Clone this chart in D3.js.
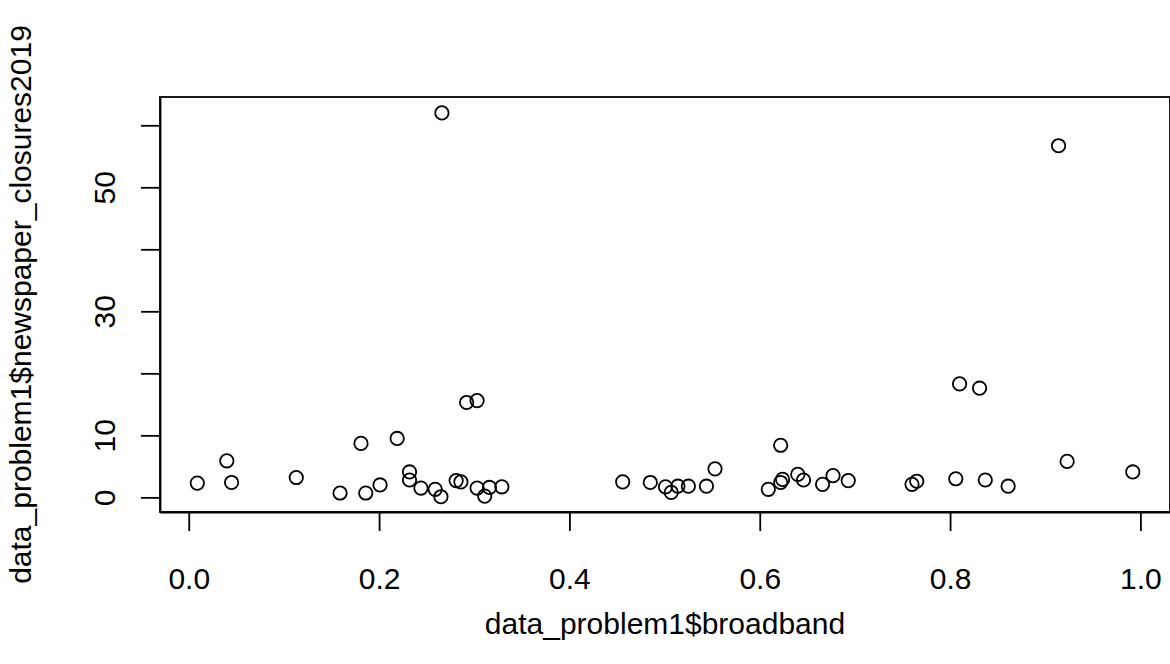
<!DOCTYPE html>
<html>
<head>
<meta charset="utf-8">
<script src="https://d3js.org/d3.v7.min.js"></script>
<style>
  body { margin: 0; background: #fff; }
  text { font-family: "Liberation Sans", Arial, sans-serif; fill: #000; }
</style>
</head>
<body>
<div id="my_dataviz"></div>
<script>
var broadband = [0.009, 0.040, 0.045, 0.113, 0.159, 0.181, 0.186, 0.201, 0.219, 0.232,
                 0.232, 0.244, 0.259, 0.265, 0.266, 0.281, 0.286, 0.292, 0.303, 0.303,
                 0.311, 0.316, 0.329, 0.456, 0.485, 0.501, 0.507, 0.514, 0.525, 0.544,
                 0.553, 0.609, 0.622, 0.622, 0.624, 0.640, 0.646, 0.666, 0.677, 0.693,
                 0.760, 0.765, 0.806, 0.810, 0.831, 0.837, 0.861, 0.914, 0.923, 0.992];
var closures = [2.3, 5.9, 2.4, 3.2, 0.7, 8.7, 0.7, 2.0, 9.5, 4.1,
                2.8, 1.5, 1.3, 0.1, 62.0, 2.7, 2.5, 15.3, 15.6, 1.5,
                0.2, 1.6, 1.7, 2.5, 2.4, 1.7, 0.8, 1.8, 1.8, 1.8,
                4.6, 1.3, 8.4, 2.4, 2.9, 3.7, 2.8, 2.1, 3.5, 2.7,
                2.1, 2.6, 3.0, 18.3, 17.6, 2.8, 1.8, 56.7, 5.8, 4.1];
var xTicks = [0, 0.2, 0.4, 0.6, 0.8, 1.0];
var yTicks = [0, 10, 20, 30, 40, 50, 60];
var yTickLabels = ["0", "10", "", "30", "", "50", ""];
var xTitle = "data_problem1$broadband";
var yTitle = "data_problem1$newspaper_closures2019";

var margin = {top: 97, right: 0, bottom: 152, left: 160},
    width = 1170 - margin.left - margin.right,
    height = 664 - margin.top - margin.bottom;

var svg = d3.select("#my_dataviz")
    .append("svg")
    .attr("width", 1170)
    .attr("height", 664)
    .append("g")
    .attr("transform", "translate(" + margin.left + "," + margin.top + ")");

// R pads the data range by 4% on each side
var x = d3.scaleLinear().domain([-0.0302, 1.0311]).range([0, width]);
var y = d3.scaleLinear().domain([-2.36, 64.56]).range([height, 0]);

var data = broadband.map(function(d, i) { return {x: d, y: closures[i]}; });

// box
svg.append("rect")
    .attr("x", 0).attr("y", 0)
    .attr("width", width).attr("height", height)
    .attr("fill", "none").attr("stroke", "#000").attr("stroke-width", 1.8);

// x axis
var xAxis = svg.append("g")
    .attr("transform", "translate(0," + height + ")")
    .call(d3.axisBottom(x).tickValues(xTicks).tickSize(19).tickSizeOuter(0).tickPadding(0)
        .tickFormat(d3.format(".1f")));
xAxis.select(".domain").attr("stroke-width", 1.8);
xAxis.selectAll(".tick line").attr("stroke-width", 1.8);
xAxis.selectAll(".tick text")
    .attr("y", 77).attr("dy", null)
    .style("font-size", "30px");

// y axis
var yAxis = svg.append("g")
    .call(d3.axisLeft(y).tickValues(yTicks).tickSize(19).tickSizeOuter(0)
        .tickFormat(function(d, i) { return yTickLabels[i]; }));
yAxis.select(".domain").attr("stroke-width", 1.8);
yAxis.selectAll(".tick line").attr("stroke-width", 1.8);
yAxis.selectAll(".tick text")
    .attr("x", null).attr("dy", null)
    .attr("transform", "translate(-45,0) rotate(-90)")
    .attr("text-anchor", "middle")
    .style("font-size", "30px");

// points
svg.append("g")
    .selectAll("circle")
    .data(data)
    .enter().append("circle")
    .attr("cx", function(d) { return x(d.x); })
    .attr("cy", function(d) { return y(d.y); })
    .attr("r", 6.7)
    .attr("fill", "none")
    .attr("stroke", "#000")
    .attr("stroke-width", 1.8);

// axis titles
svg.append("text")
    .attr("x", width / 2)
    .attr("y", height + 122)
    .attr("text-anchor", "middle")
    .style("font-size", "30px")
    .text(xTitle);

svg.append("text")
    .attr("transform", "translate(" + (-129) + "," + (height / 2) + ") rotate(-90)")
    .attr("text-anchor", "middle")
    .style("font-size", "30px")
    .text(yTitle);
</script>
</body>
</html>
